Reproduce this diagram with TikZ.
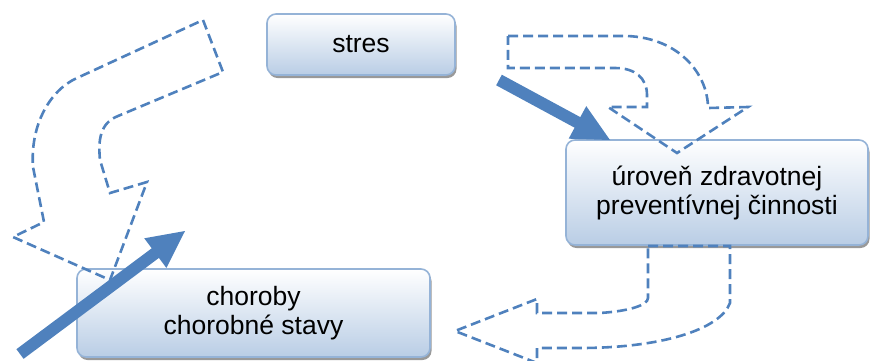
\documentclass[tikz,border=0pt]{standalone}
\usepackage{fontspec}
\setmainfont{Liberation Sans}
\usetikzlibrary{calc,shadows}

\definecolor{accent}{HTML}{4F81BD}
\definecolor{boxedge}{HTML}{95B3D7}
\definecolor{boxbottom}{HTML}{B9CDE5}

% solid block arrow from #1 to #2 (tail centre, tip)
\newcommand\blockarr[2]{%
  \coordinate (hb) at ($(#2)!37pt!(#1)$);
  \fill[accent] ($(#1)!6pt!90:(#2)$) -- ($(hb)!6pt!90:(#2)$) -- ($(hb)!18.5pt!90:(#2)$)
    -- (#2) -- ($(hb)!18.5pt!-90:(#2)$) -- ($(hb)!6pt!-90:(#2)$)
    -- ($(#1)!6pt!-90:(#2)$) -- cycle;
}

\tikzset{
  box/.style={rounded corners=9pt, draw=boxedge, line width=1.6pt,
    top color=white, bottom color=boxbottom, align=center,
    font=\fontsize{26.5}{29}\selectfont,
    drop shadow={shadow xshift=1.5pt, shadow yshift=-3pt, fill=black!50, opacity=0.8}},
  dashedflow/.style={draw=accent, line width=2.6pt, dash pattern=on 10pt off 5pt,
    line join=miter}
}

\begin{document}
\begin{tikzpicture}[x=1pt,y=-1pt]
\useasboundingbox (0,0) rectangle (870,360);

% boxes
\node[box, minimum width=188pt, minimum height=61pt] (stres) at (361,44.5) {stres};
\node[box, minimum width=302pt, minimum height=105pt] (uroven) at (717,192.5)
  {úroveň zdravotnej\\preventívnej činnosti};
\node[box, minimum width=353pt, minimum height=88pt] (choroby) at (253.5,313)
  {choroby\\chorobné stavy};

% curved dashed arrow on the left
\draw[dashedflow] (203,20) -- (223,72) -- (118,116)
  .. controls (100,123) and (98,140) .. (100,160) -- (110,193) -- (147,182)
  -- (110,280) -- (13,237) -- (44,222) -- (33,167)
  .. controls (30,125) and (50,90) .. (77,78) -- cycle;

% curved dashed arrow at the top right
\draw[dashedflow] (508,36) -- (627,36)
  .. controls (680,38) and (708,75) .. (708,108) -- (748,107) -- (677,153)
  -- (608,107) -- (647,107) -- (647,95)
  .. controls (647,78) and (635,68) .. (615,68) -- (508,68) -- cycle;

% curved dashed arrow at the bottom right
\draw[dashedflow] (648,246) -- (730,246) -- (730,303)
  .. controls (720,330) and (660,348) .. (580,348) -- (537,348) -- (537,363)
  -- (455,331) -- (537,299) -- (537,313) -- (600,313)
  .. controls (630,311) and (648,305) .. (648,298) -- cycle;

% solid arrows
\coordinate (a1s) at (499,80);
\coordinate (a1e) at (610,140);
\blockarr{a1s}{a1e}
\coordinate (a2s) at (20,354);
\coordinate (a2e) at (185,231);
\blockarr{a2s}{a2e}
\end{tikzpicture}
\end{document}
